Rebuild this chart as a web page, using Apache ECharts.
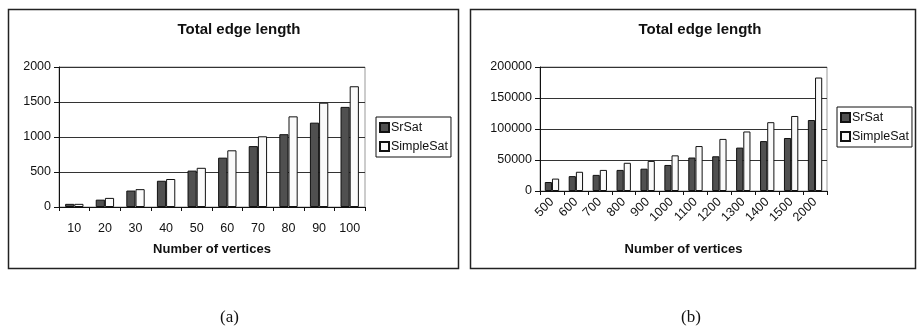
<!DOCTYPE html>
<html>
<head>
<meta charset="utf-8">
<script src="https://cdn.jsdelivr.net/npm/echarts@6/dist/echarts.min.js"></script>
<style>
  html, body { margin: 0; padding: 0; background: #fff; }
  #chart { width: 917px; height: 330px; }
</style>
</head>
<body>
<div id="chart"></div>
<script>
// Total edge length vs. number of vertices, two instance sizes
const categoriesA = ['10', '20', '30', '40', '50', '60', '70', '80', '90', '100'];
const srSatA = [45, 105, 235, 375, 520, 705, 870, 1040, 1205, 1430];
const simpleSatA = [45, 130, 255, 400, 560, 810, 1010, 1295, 1490, 1725];

const categoriesB = ['500', '600', '700', '800', '900', '1000', '1100', '1200', '1300', '1400', '1500', '2000'];
const srSatB = [14500, 24000, 26000, 34000, 36000, 42000, 54000, 56000, 70000, 80500, 85500, 114500];
const simpleSatB = [20000, 31000, 34000, 45500, 48500, 57500, 72500, 84000, 96000, 111000, 121000, 183000];

const yTicksA = { min: 0, max: 2000, interval: 500 };
const yTicksB = { min: 0, max: 200000, interval: 50000 };

const seriesNames = ['SrSat', 'SimpleSat'];
const titleText = 'Total edge length';
const xAxisTitle = 'Number of vertices';
const captions = ['(a)', '(b)'];

const FONT = 'Liberation Sans, Arial, sans-serif';
const DARK = '#505050';
const LIGHT = '#fafafa';

const chart = echarts.init(document.getElementById('chart'), null, { renderer: 'canvas' });

function xAxisFor(gridIndex, cats, rotate) {
  return {
    type: 'category', gridIndex, data: cats,
    name: xAxisTitle, nameLocation: 'middle',
    nameGap: rotate ? 52 : 36,
    nameTextStyle: { fontFamily: FONT, fontWeight: 'bold', fontSize: 13, color: '#111' },
    axisLine: { lineStyle: { color: '#111', width: 1 } },
    axisTick: { show: true, inside: false, length: 4, lineStyle: { color: '#111' } },
    axisLabel: { fontFamily: FONT, fontSize: 12.5, color: '#111', margin: rotate ? 9 : 15, rotate: rotate || 0, interval: 0 },
    splitLine: { show: false }
  };
}

function yAxisFor(gridIndex, ticks) {
  return {
    type: 'value', gridIndex, min: ticks.min, max: ticks.max, interval: ticks.interval,
    axisLine: { show: true, lineStyle: { color: '#111', width: 1 } },
    axisTick: { show: true, inside: false, length: 5, lineStyle: { color: '#111' } },
    axisLabel: { fontFamily: FONT, fontSize: 12.5, color: '#111', margin: 8, formatter: v => String(v) },
    splitLine: { show: true, lineStyle: { color: '#333', width: 1 } }
  };
}

function barSeries(name, data, idx, fill) {
  return {
    name, type: 'bar', data, xAxisIndex: idx, yAxisIndex: idx,
    barGap: '0%', barCategoryGap: '40%',
    itemStyle: { color: fill, borderColor: '#111', borderWidth: 1 },
    emphasis: { disabled: true }
  };
}

function legendAt(left, top) {
  return {
    data: seriesNames, orient: 'vertical', left, top,
    icon: 'rect', itemWidth: 9, itemHeight: 9, itemGap: 6,
    padding: [4, 3, 4, 3],
    borderColor: '#111', borderWidth: 1,
    textStyle: { fontFamily: FONT, fontSize: 12.5, color: '#111', padding: [0, 0, 0, -3] },
    selectedMode: false
  };
}

chart.setOption({
  animation: false,
  backgroundColor: '#fff',
  title: [
    { text: titleText, left: 234, top: 17, textAlign: 'center',
      textStyle: { fontFamily: FONT, fontWeight: 'bold', fontSize: 15, color: '#111' } },
    { text: titleText, left: 695, top: 17, textAlign: 'center',
      textStyle: { fontFamily: FONT, fontWeight: 'bold', fontSize: 15, color: '#111' } }
  ],
  legend: [legendAt(376, 117), legendAt(837, 107)],
  grid: [
    { left: 59, top: 67, width: 306, height: 140, show: true, borderColor: '#999', borderWidth: 1, containLabel: false },
    { left: 540, top: 67, width: 287, height: 124, show: true, borderColor: '#999', borderWidth: 1, containLabel: false }
  ],
  xAxis: [xAxisFor(0, categoriesA, 0), xAxisFor(1, categoriesB, 45)],
  yAxis: [yAxisFor(0, yTicksA), yAxisFor(1, yTicksB)],
  series: [
    barSeries(seriesNames[0], srSatA, 0, DARK),
    barSeries(seriesNames[1], simpleSatA, 0, LIGHT),
    barSeries(seriesNames[0], srSatB, 1, DARK),
    barSeries(seriesNames[1], simpleSatB, 1, LIGHT)
  ],
  graphic: [
    { type: 'rect', shape: { x: 8.5, y: 9.5, width: 450, height: 259 }, silent: true,
      style: { fill: 'none', stroke: '#222', lineWidth: 1.5 } },
    { type: 'rect', shape: { x: 470.5, y: 9.5, width: 445, height: 259 }, silent: true,
      style: { fill: 'none', stroke: '#222', lineWidth: 1.5 } },
    { type: 'text', left: 220, top: 309, silent: true,
      style: { text: captions[0], font: '17px "Liberation Serif", "DejaVu Serif", serif', fill: '#111' } },
    { type: 'text', left: 681, top: 309, silent: true,
      style: { text: captions[1], font: '17px "Liberation Serif", "DejaVu Serif", serif', fill: '#111' } }
  ]
});
</script>
</body>
</html>
